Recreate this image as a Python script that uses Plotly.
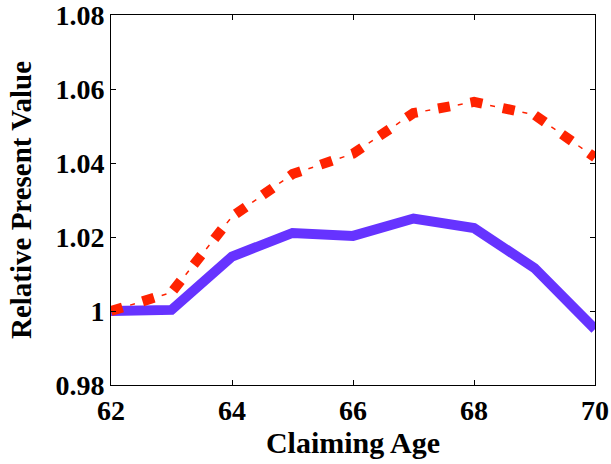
import plotly.graph_objects as go

ages = [62, 63, 64, 65, 66, 67, 68, 69, 70]
solid_vals = [1.0000, 1.0003, 1.0147, 1.0211, 1.0203, 1.0250, 1.0224, 1.0116, 0.9951]
dashdot_vals = [1.0000, 1.0050, 1.0255, 1.0370, 1.0425, 1.0535, 1.0565, 1.0530, 1.0415]

x_ticks = [62, 64, 66, 68, 70]
y_ticks = [0.98, 1.00, 1.02, 1.04, 1.06, 1.08]
y_tick_labels = ["0.98", "1", "1.02", "1.04", "1.06", "1.08"]

blue = "#6633ff"
red = "#ff2200"

fig = go.Figure()
fig.add_trace(go.Scatter(x=ages, y=solid_vals, mode="lines",
                         line=dict(color=blue, width=10), showlegend=False))
# dash-dot: thick dashes + thin dots (MATLAB-style rendering)
fig.add_trace(go.Scatter(x=ages, y=dashdot_vals, mode="lines",
                         line=dict(color=red, width=10, dash="12px,21px"), showlegend=False))
fig.add_trace(go.Scatter(x=ages, y=dashdot_vals, mode="lines",
                         line=dict(color=red, width=1.5, dash="0px,20px,5px,8px"), showlegend=False))

font_family = "Liberation Serif"
axis_common = dict(
    showline=True, linecolor="black", linewidth=1, mirror="ticks",
    ticks="inside", ticklen=5, tickcolor="black", tickwidth=1,
    showgrid=False, zeroline=False, automargin=False, ticklabeloverflow="allow",
    tickfont=dict(family=font_family, size=28, color="black", weight="bold"),
)

fig.update_layout(
    width=611, height=464,
    margin=dict(l=111, r=16, t=15, b=79),
    paper_bgcolor="white", plot_bgcolor="white",
    xaxis=dict(range=[62, 70], tickvals=x_ticks,
               title=dict(text="<b>Claiming Age</b>", standoff=0,
                          font=dict(family=font_family, size=30, color="black")),
               **axis_common),
    yaxis=dict(range=[0.98, 1.08], tickvals=y_ticks, ticktext=y_tick_labels,
               title=dict(text="<b>Relative Present Value</b>", standoff=15,
                          font=dict(family=font_family, size=29, color="black")),
               **axis_common),
)

fig.write_html("out.html")
